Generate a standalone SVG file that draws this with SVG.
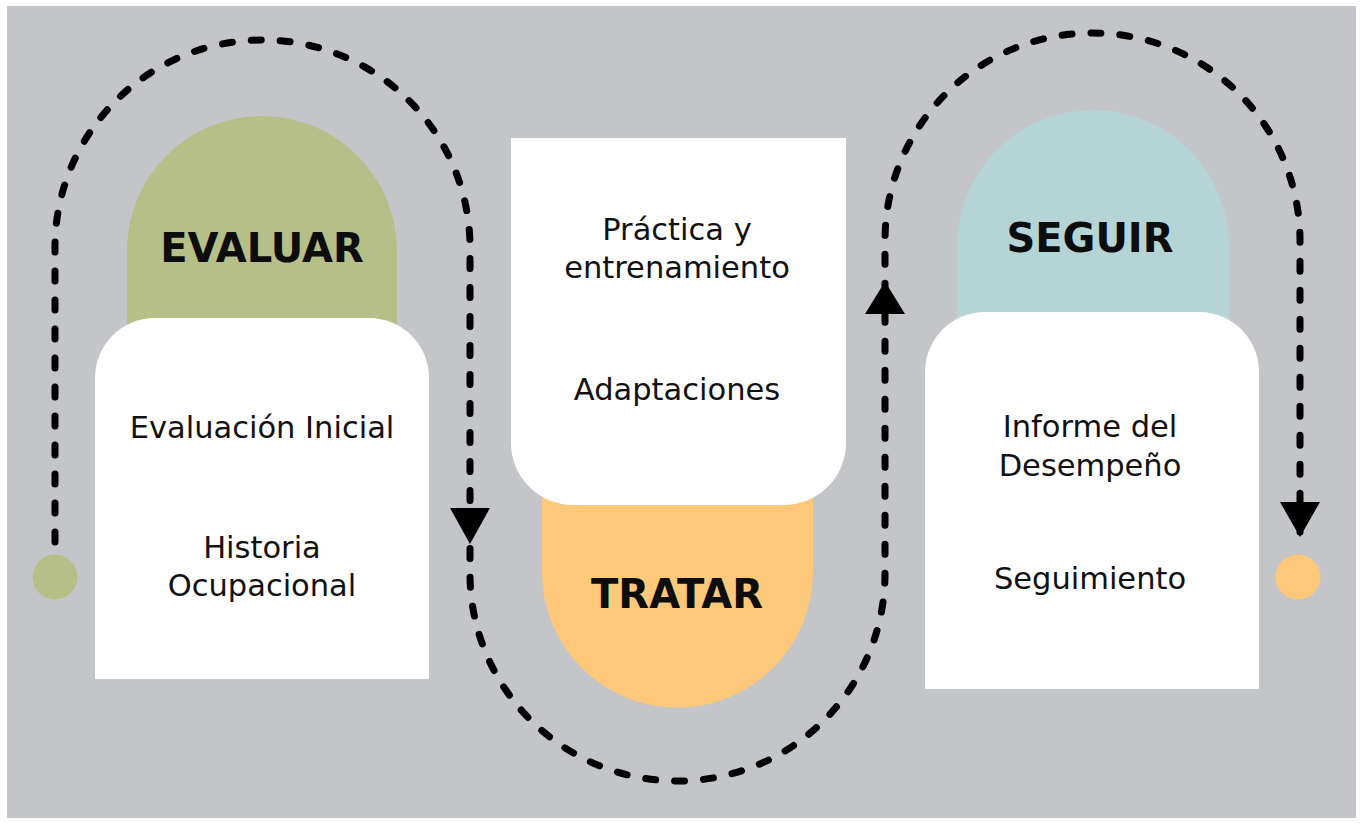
<svg xmlns="http://www.w3.org/2000/svg" width="1362" height="825" viewBox="0 0 1362 825">
<style>
.title{font-family:"DejaVu Sans","Liberation Sans",sans-serif;font-weight:bold;font-size:40px;fill:#0d0d0d;text-anchor:middle}
.body{font-family:"DejaVu Sans","Liberation Sans",sans-serif;font-size:30.5px;fill:#111;text-anchor:middle}
.card{fill:#ffffff}
.flow{fill:none;stroke:#000;stroke-width:7;stroke-linecap:round;stroke-dasharray:10 19}
.head{fill:#000}
</style>
<defs>
<path id="arrowDown" d="M-20,0 L20,0 L0,36 Z"/>
</defs>
<rect x="0" y="0" width="1362" height="825" fill="#ffffff"/>
<rect x="7" y="6" width="1349" height="812" fill="#c4c5c8"/>

<g id="evaluar">
<path d="M127,400 L127,251 A135,135 0 0 1 397,251 L397,400 Z" fill="#b6bf87"/>
<path class="card" d="M95,679 L95,378 A60,60 0 0 1 155,318 L369,318 A60,60 0 0 1 429,378 L429,679 Z"/>
<text class="title" x="262" y="262">EVALUAR</text>
<text class="body" x="262" y="438">Evaluación Inicial</text>
<text class="body" x="262" y="558">Historia</text>
<text class="body" x="262" y="596">Ocupacional</text>
</g>

<g id="tratar">
<path d="M542,440 L542,572 A135.5,135.5 0 0 0 813,572 L813,440 Z" fill="#fec87a"/>
<path class="card" d="M511,138 L846,138 L846,443 A62,62 0 0 1 784,505 L573,505 A62,62 0 0 1 511,443 Z"/>
<text class="title" x="677" y="608">TRATAR</text>
<text class="body" x="677" y="240">Práctica y</text>
<text class="body" x="677" y="278">entrenamiento</text>
<text class="body" x="677" y="400">Adaptaciones</text>
</g>

<g id="seguir">
<path d="M957,400 L957,246 A136,136 0 0 1 1229,246 L1229,400 Z" fill="#b5d4d6"/>
<path class="card" d="M925,689 L925,372 A60,60 0 0 1 985,312 L1199,312 A60,60 0 0 1 1259,372 L1259,689 Z"/>
<text class="title" x="1090" y="252">SEGUIR</text>
<text class="body" x="1090" y="437">Informe del</text>
<text class="body" x="1090" y="476">Desempeño</text>
<text class="body" x="1090" y="589">Seguimiento</text>
</g>

<g id="start">
<circle cx="55" cy="577" r="22.5" fill="#b6bf87"/>
</g>
<g id="end">
<circle cx="1298" cy="577" r="22.5" fill="#fec87a"/>
</g>

<g id="connectors">
<path class="flow" d="M55,542 L55,247.5 A207.5,207.5 0 0 1 470,247.5 L470,573.5 A207.5,207.5 0 0 0 885,573.5 L885,240.5 A207.5,207.5 0 0 1 1300,240.5 L1300,532"/>
<use href="#arrowDown" class="head" transform="translate(470,508)"/>
<use href="#arrowDown" class="head" transform="translate(885,314) scale(1,-0.9)"/>
<use href="#arrowDown" class="head" transform="translate(1300,502) scale(1,0.97)"/>
</g>
</svg>
